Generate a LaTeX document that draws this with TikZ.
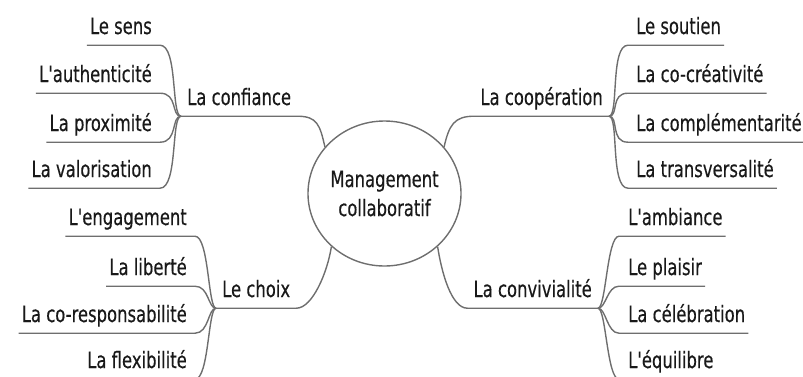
\documentclass[tikz,border=0pt]{standalone}
\usepackage{fontspec}
\newfontfamily\mmfont[FakeStretch=0.73,FakeBold=0.35,Ligatures=TeXOff]{DejaVu Sans}
\usetikzlibrary{shapes.geometric,calc}
\definecolor{lnc}{RGB}{110,110,110}
\definecolor{txc}{RGB}{25,25,25}
\begin{document}
\begin{tikzpicture}[x=1pt,y=-1pt,
  lbl/.style={font=\mmfont\fontsize{22.5}{26}\selectfont, text=txc, inner xsep=3pt, inner ysep=0pt, text height=16pt, text depth=11pt},
  par/.style={lbl, inner xsep=6pt},
  ln/.style={draw=lnc, line width=1.4pt}]
\clip (0,0) rectangle (803,376);
% centre
\node[ellipse, draw=lnc, line width=1.4pt, minimum width=123pt, minimum height=145pt, inner sep=0pt, align=center, font=\mmfont\fontsize{22.5}{29}\selectfont, text=txc] (c) at (384.5,193.5) {Management\\collaboratif};
% top left
\node[lbl, anchor=base east] (a1) at (155,34) {Le sens};
\node[lbl, anchor=base east] (a2) at (155,82) {L'authenticité};
\node[lbl, anchor=base east] (a3) at (155,131) {La proximité};
\node[lbl, anchor=base east] (a4) at (155,177) {La valorisation};
\node[par, anchor=base west] (pa) at (181,105) {La confiance};
\foreach \n in {a1,a2,a3,a4}
  \draw[ln] (\n.south west) -- ($(\n.south east)+(5,0)$) .. controls +(18,0) and +(-10,0) .. (pa.south west);
\draw[ln] (pa.south west) -- (pa.south east) .. controls +(20,0) and +(-5,-22) .. (c.142);
% top right
\node[lbl, anchor=base west] (b1) at (633,34) {Le soutien};
\node[lbl, anchor=base west] (b2) at (633,82) {La co-créativité};
\node[lbl, anchor=base west] (b3) at (633,131) {La complémentarité};
\node[lbl, anchor=base west] (b4) at (633,177) {La transversalité};
\node[par, anchor=base east] (pb) at (609,105) {La coopération};
\foreach \n in {b1,b2,b3,b4}
  \draw[ln] (\n.south east) -- ($(\n.south west)+(-5,0)$) .. controls +(-18,0) and +(10,0) .. (pb.south east);
\draw[ln] (pb.south east) -- (pb.south west) .. controls +(-20,0) and +(5,-22) .. (c.38);
% bottom left
\node[lbl, anchor=base east] (d1) at (190,225) {L'engagement};
\node[lbl, anchor=base east] (d2) at (190,275) {La liberté};
\node[lbl, anchor=base east] (d3) at (190,322) {La co-responsabilité};
\node[lbl, anchor=base east] (d4) at (190,368) {La flexibilité};
\node[par, anchor=base west] (pd) at (216,297) {Le choix};
\foreach \n in {d1,d2,d3,d4}
  \draw[ln] (\n.south west) -- ($(\n.south east)+(5,0)$) .. controls +(14,0) and +(-8,0) .. (pd.south west);
\draw[ln] (pd.south west) -- (pd.south east) .. controls +(16,0) and +(-4,26) .. (c.225);
% bottom right
\node[lbl, anchor=base west] (e1) at (625,225) {L'ambiance};
\node[lbl, anchor=base west] (e2) at (625,275) {Le plaisir};
\node[lbl, anchor=base west] (e3) at (625,322) {La célébration};
\node[lbl, anchor=base west] (e4) at (625,368) {L'équilibre};
\node[par, anchor=base east] (pe) at (598,297) {La convivialité};
\foreach \n in {e1,e2,e3,e4}
  \draw[ln] (\n.south east) -- ($(\n.south west)+(-6,0)$) .. controls +(-12,0) and +(8,0) .. (pe.south east);
\draw[ln] (pe.south east) -- (pe.south west) .. controls +(-16,0) and +(4,26) .. (c.315);
\end{tikzpicture}
\end{document}
